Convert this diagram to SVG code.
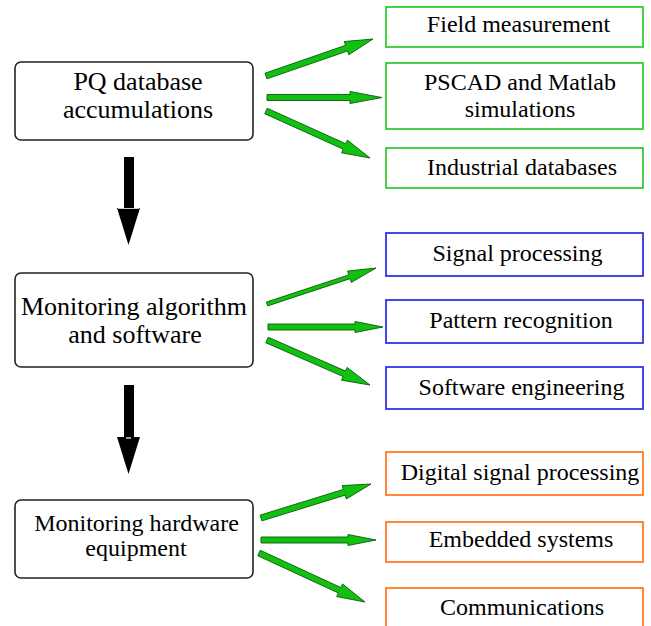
<svg xmlns="http://www.w3.org/2000/svg" width="651" height="626" viewBox="0 0 651 626">
<rect width="651" height="626" fill="#fff"/>
<g id="left-nodes" fill="#fff" stroke="#222" stroke-width="1.6">
<g id="node-pq">
<rect x="15" y="62" width="238" height="78" rx="6"/>
<text x="138" y="90" font-family="Liberation Serif" font-size="26" text-anchor="middle" fill="#000" stroke="none" style="font-family:'Liberation Serif',serif">PQ database</text>
<text x="138" y="118" font-family="Liberation Serif" font-size="26" text-anchor="middle" fill="#000" stroke="none" style="font-family:'Liberation Serif',serif">accumulations</text>
</g>
<g id="node-algo">
<rect x="15" y="273" width="238" height="94" rx="6"/>
<text x="134" y="315" font-family="Liberation Serif" font-size="26" text-anchor="middle" fill="#000" stroke="none" style="font-family:'Liberation Serif',serif">Monitoring algorithm</text>
<text x="135" y="343" font-family="Liberation Serif" font-size="26" text-anchor="middle" fill="#000" stroke="none" style="font-family:'Liberation Serif',serif">and software</text>
</g>
<g id="node-hw">
<rect x="15" y="500" width="238" height="78" rx="6"/>
<text x="136.5" y="531" font-family="Liberation Serif" font-size="24" text-anchor="middle" fill="#000" stroke="none" style="font-family:'Liberation Serif',serif">Monitoring hardware</text>
<text x="136" y="556" font-family="Liberation Serif" font-size="24" text-anchor="middle" fill="#000" stroke="none" style="font-family:'Liberation Serif',serif">equipment</text>
</g>
</g>
<g id="green-nodes" fill="#fff" stroke="#33cc33" stroke-width="1.8">
<g id="node-field">
<rect x="386" y="7" width="257" height="40"/>
<text x="518.5" y="32" font-family="Liberation Serif" font-size="24" text-anchor="middle" fill="#000" stroke="none" style="font-family:'Liberation Serif',serif">Field measurement</text>
</g>
<g id="node-pscad">
<rect x="386" y="63" width="257" height="66"/>
<text x="520" y="90" font-family="Liberation Serif" font-size="24" text-anchor="middle" fill="#000" stroke="none" style="font-family:'Liberation Serif',serif">PSCAD and Matlab</text>
<text x="520" y="117" font-family="Liberation Serif" font-size="24" text-anchor="middle" fill="#000" stroke="none" style="font-family:'Liberation Serif',serif">simulations</text>
</g>
<g id="node-industrial">
<rect x="386" y="148" width="257" height="40"/>
<text x="522" y="175" font-family="Liberation Serif" font-size="24" text-anchor="middle" fill="#000" stroke="none" style="font-family:'Liberation Serif',serif">Industrial databases</text>
</g>
</g>
<g id="blue-nodes" fill="#fff" stroke="#3333ee" stroke-width="1.8">
<g id="node-signal">
<rect x="386" y="233" width="257" height="43"/>
<text x="517.5" y="261" font-family="Liberation Serif" font-size="24" text-anchor="middle" fill="#000" stroke="none" style="font-family:'Liberation Serif',serif">Signal processing</text>
</g>
<g id="node-pattern">
<rect x="386" y="300" width="257" height="43"/>
<text x="521" y="328" font-family="Liberation Serif" font-size="24" text-anchor="middle" fill="#000" stroke="none" style="font-family:'Liberation Serif',serif">Pattern recognition</text>
</g>
<g id="node-softeng">
<rect x="386" y="367" width="257" height="42"/>
<text x="521.5" y="395" font-family="Liberation Serif" font-size="24" text-anchor="middle" fill="#000" stroke="none" style="font-family:'Liberation Serif',serif">Software engineering</text>
</g>
</g>
<g id="orange-nodes" fill="#fff" stroke="#ff7a22" stroke-width="1.8">
<g id="node-dsp">
<rect x="386" y="452" width="257" height="43"/>
<text x="520" y="480" font-family="Liberation Serif" font-size="24" text-anchor="middle" fill="#000" stroke="none" style="font-family:'Liberation Serif',serif">Digital signal processing</text>
</g>
<g id="node-embedded">
<rect x="386" y="522" width="257" height="40"/>
<text x="521" y="547" font-family="Liberation Serif" font-size="24" text-anchor="middle" fill="#000" stroke="none" style="font-family:'Liberation Serif',serif">Embedded systems</text>
</g>
<g id="node-comm">
<rect x="386" y="588" width="257" height="50"/>
<text x="522" y="615" font-family="Liberation Serif" font-size="24" text-anchor="middle" fill="#000" stroke="none" style="font-family:'Liberation Serif',serif">Communications</text>
</g>
</g>
<g id="connectors">
<g fill="#11c011" stroke="#0a5a0a" stroke-width="0.9">
<polygon points="266.98,78.84 347.52,51.0 348.83,54.78 373,39 344.25,41.55 345.56,45.33 265.02,73.17"/>
<polygon points="267,94.5 350,94.5 350,91.5 382,97.5 350,103.5 350,100.5 267,100.5"/>
<polygon points="264.76,113.73 343.24,149.20 341.60,152.85 370,158 347.36,140.09 345.72,143.74 267.24,108.27"/>
<polygon points="267.63,305.90 350.04,278.68 351.29,282.48 376,268 347.53,271.08 348.78,274.88 266.37,302.10"/>
<polygon points="268,324 355,324 355,321.5 383,327 355,332.5 355,330 268,330"/>
<polygon points="265.80,342.75 343.14,376.54 341.54,380.21 370,385 347.14,367.38 345.54,371.04 268.20,337.25"/>
<polygon points="261.89,520.87 345.13,495.14 346.31,498.96 371,484 342.17,485.58 343.35,489.40 260.11,515.13"/>
<polygon points="261,537 348,537 348,534.5 376,540 348,545.5 348,543 261,543"/>
<polygon points="257.74,555.72 338.33,592.97 336.65,596.60 365,602 342.53,583.90 340.85,587.53 260.26,550.28"/>
</g>
<g fill="#000">
<rect x="124" y="157" width="10" height="52"/>
<polygon points="117,208 140,208 128.5,245"/>
<rect x="124" y="385" width="10" height="53"/>
<polygon points="117,437 140,437 128.5,474"/>
</g>
<line x1="118" y1="208.5" x2="139" y2="208.5" stroke="#fff" stroke-width="0.8"/>
<line x1="126" y1="438" x2="131" y2="438" stroke="#fff" stroke-width="1.2"/>
</g>
</svg>
